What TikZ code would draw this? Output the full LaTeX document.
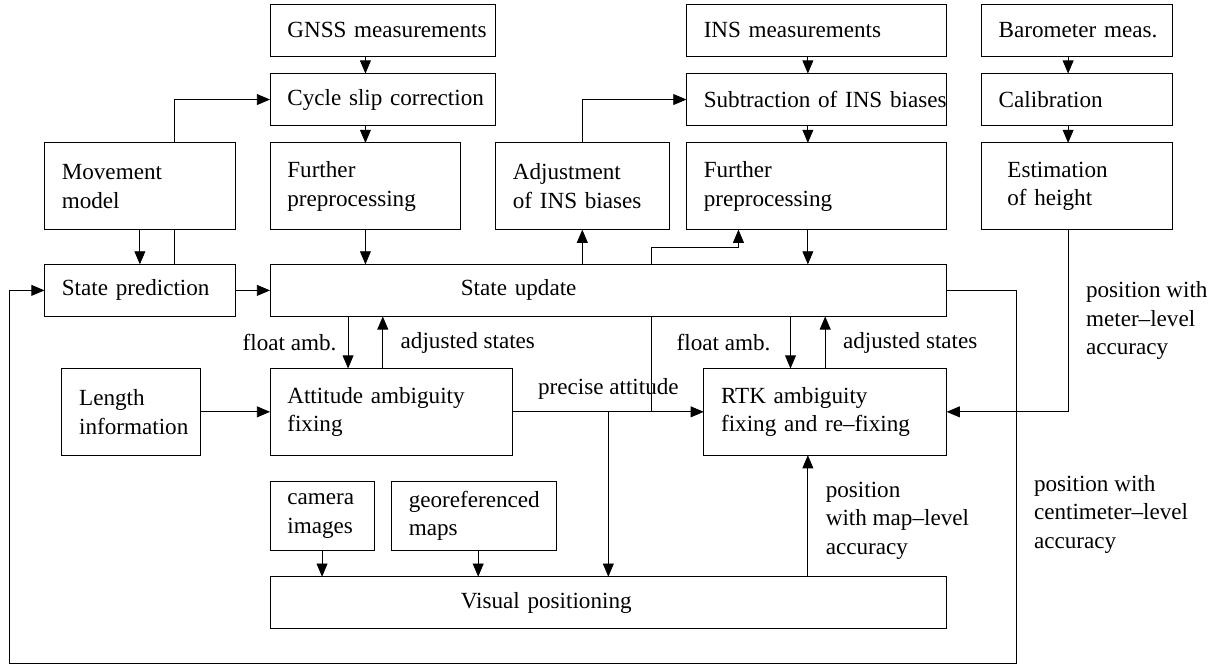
\documentclass[tikz,border=0pt]{standalone}
\usepackage{fontspec}
\setmainfont{Liberation Serif}
\usetikzlibrary{shapes,arrows,positioning}
\tikzstyle{block} = [draw=black, rectangle, outer sep=0pt, align=left, inner xsep=0.29cm, minimum height=0.87cm, execute at begin node={\rightskip=-0.29cm plus 1fil\relax}]
\tikzstyle{tall} = [minimum height=1.45cm]
\tikzstyle{arrow} = [->,>=triangle 45]

\begin{document}
\begin{tikzpicture}[font=\fontsize{11}{13.6}\selectfont]
\useasboundingbox (0,-0.015) rectangle (20.375,11.117);

\node(gnss)   [block, text width=3.19cm, anchor=north west] at (4.513,11.048) {GNSS measurements};
\node(cycle)  [block, text width=3.19cm, below=0.29cm of gnss]                  {Cycle slip correction};
\node(prepg)  [block, tall, text width=2.61cm, below=0.29cm of cycle.south west, anchor=north west] {Further\\preprocessing};
\node(move)   [block, tall, text width=2.61cm, left=0.58cm of prepg]            {Movement\\model};
\node(update) [block, text width=4.93cm, inner xsep=3.19cm, below=0.58cm of prepg.south west, anchor=north west] {State update};
\node(pred)   [block, text width=2.61cm, left=0.58cm of update]                 {State prediction};
\node(adjust) [block, tall, text width=2.32cm, right=0.58cm of prepg]           {Adjustment\\of INS biases};
\node(prepi)  [block, tall, text width=3.77cm, right=0.29cm of adjust]          {Further\\preprocessing};
\node(sub)    [block, text width=3.77cm, above=0.29cm of prepi]                 {Subtraction of INS biases};
\node(ins)    [block, text width=3.77cm, above=0.29cm of sub]                   {INS measurements};
\node(est)    [block, tall, text width=2.32cm, inner xsep=0.435cm, right=0.58cm of prepi] {Estimation\\of height};
\node(calib)  [block, text width=2.61cm, above=0.29cm of est]                   {Calibration};
\node(baro)   [block, text width=2.61cm, above=0.29cm of calib]                 {Barometer meas.};
\node(att)    [block, tall, text width=3.48cm, below=0.87cm of update.south west, anchor=north west] {Attitude ambiguity\\fixing};
\node(length) [block, tall, text width=1.74cm, left=1.16cm of att]              {Length\\information};
\node(rtk)    [block, tall, text width=3.48cm, below=0.87cm of update.south east, anchor=north east] {RTK ambiguity\\fixing and re--fixing};
\node(camera) [block, minimum height=1.16cm, text width=1.16cm, below=0.435cm of att.south west, anchor=north west] {camera\\images};
\node(georef) [block, minimum height=1.16cm, text width=2.175cm, right=0.29cm of camera] {georeferenced\\maps};
\node(visual) [block, text width=4.93cm, inner xsep=3.19cm, below=0.435cm of camera.south west, anchor=north west] {Visual positioning};

% helper points for the off-centre connectors
\coordinate (movx) at ([xshift=0.58cm]move.north);
\coordinate (insx) at ([xshift=2.03cm]prepi.south west);
\coordinate (barx) at ([xshift=1.45cm]est.south west);
\coordinate (attf) at ([xshift=1.305cm]att.north west);
\coordinate (atta) at ([xshift=1.885cm]att.north west);
\coordinate (rtkf) at ([xshift=1.45cm]rtk.north west);
\coordinate (brk)  at ([xshift=-0.58cm]prepi.south west);
\coordinate (prex) at ([xshift=0.87cm]prepi.south west);
\coordinate (geox) at ([xshift=1.45cm]georef.south west);
\coordinate (fbr)  at ([xshift=1.16cm]update.east);
\coordinate (fbb)  at ([yshift=-0.58cm]visual.south);

% GNSS branch
\draw [arrow] (gnss.south -| prepg) -- (cycle.north -| prepg);
\draw [arrow] (cycle.south -| prepg) -- (prepg.north);
\draw [arrow] (prepg.south) -- (prepg.south |- update.north);
\draw [arrow] (move) -- (pred);
\draw         (pred.north -| movx) -- (move.south -| movx);
\draw [arrow] (movx) |- (cycle.west);
\draw [arrow] (pred) -- (update);

% INS branch
\draw [arrow] (update.north -| adjust) -- (adjust.south);
\draw [arrow] (adjust.north) |- (sub.west);
\draw [arrow] (ins.south -| insx) -- (sub.north -| insx);
\draw [arrow] (sub.south -| insx) -- (prepi.north -| insx);
\draw [arrow] (insx) -- (insx |- update.north);

% barometer branch
\draw [arrow] (baro.south -| barx) -- (calib.north -| barx);
\draw [arrow] (calib.south -| barx) -- (est.north -| barx);
\draw [arrow] (barx) |- node[pos=0.25, right=5pt, align=left]{position with\\meter--level\\accuracy} (rtk.east);

% ambiguity fixing
\draw [arrow] (attf |- update.south) -- node[left=2pt]{float amb.} (attf);
\draw [arrow] (atta) -- node[right=5pt]{adjusted states} (atta |- update.south);
\draw [arrow] (rtkf |- update.south) -- node[left=6pt]{float amb.} (rtkf);
\draw [arrow] (rtk.north) -- node[right=5pt]{adjusted states} (rtk.north |- update.south);
\draw [arrow] (length) -- (att);
\draw [arrow] (att) -- node[above=2.5pt]{precise attitude} (rtk);
\draw [arrow] (att.east -| visual.north) -- (visual.north);
\draw         (att.east -| brk) -- (update.south -| brk);
\draw [arrow] (update.north -| brk) |- ([yshift=-0.29cm]prex) -- (prex);

% visual positioning
\draw [arrow] (camera) -- (camera |- visual.north);
\draw [arrow] (geox) -- (geox |- visual.north);
\draw [arrow] (insx |- visual.north) -- node[pos=0.46, right=5pt, align=left]{position\\with map--level\\accuracy} (insx |- rtk.south);

% feedback to the prediction
\draw [arrow] (update.east) -- (fbr) -- node[pos=0.6, right=5pt, align=left]{position with\\centimeter--level\\accuracy} (fbr |- fbb) -| ([xshift=-0.58cm]pred.west) -- (pred.west);

\end{tikzpicture}
\end{document}
